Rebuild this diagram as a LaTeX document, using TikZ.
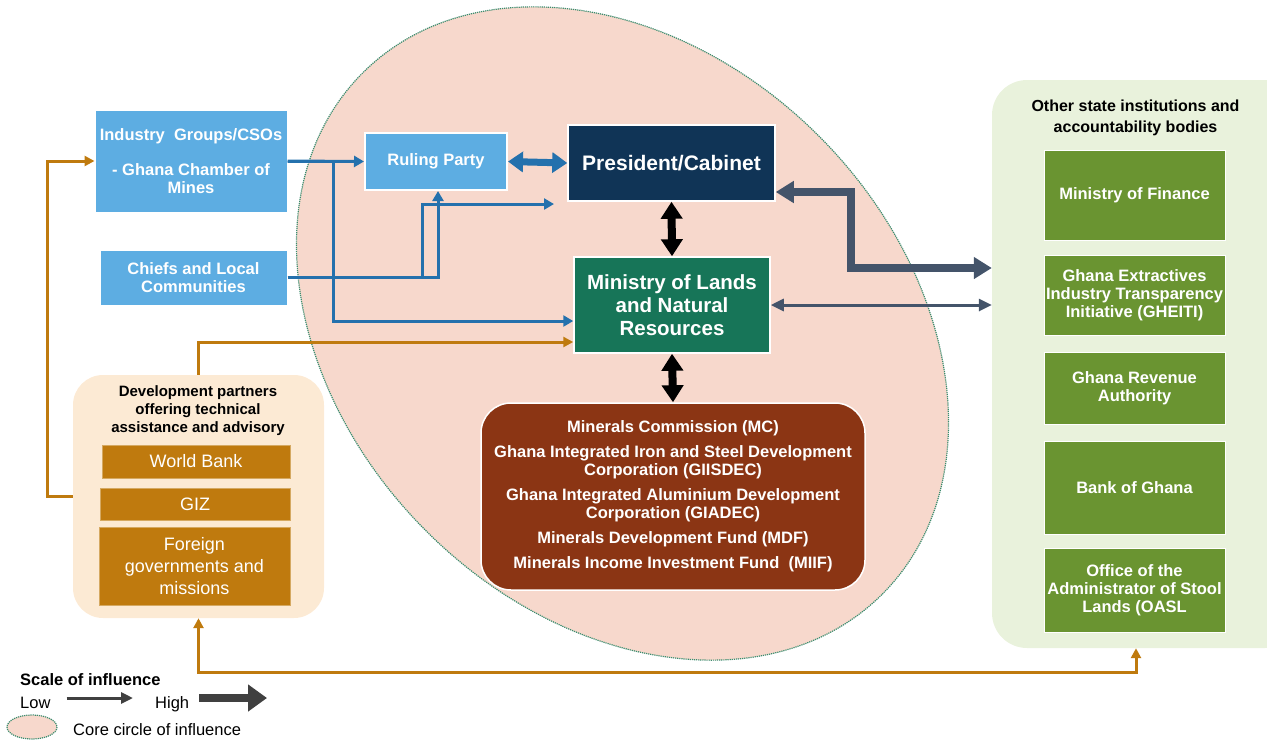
\documentclass[tikz,border=0pt]{standalone}
\usepackage{fontspec}
\setmainfont{Liberation Sans}
\usetikzlibrary{arrows.meta}

\definecolor{corefill}{RGB}{247,216,204}
\definecolor{coreline}{RGB}{60,140,110}
\definecolor{skyblue}{RGB}{93,173,226}
\definecolor{linkblue}{RGB}{36,113,173}
\definecolor{navy}{RGB}{16,52,86}
\definecolor{landgreen}{RGB}{23,117,88}
\definecolor{agencybrown}{RGB}{139,53,20}
\definecolor{slate}{RGB}{68,84,106}
\definecolor{donororange}{RGB}{191,122,14}
\definecolor{donorfill}{RGB}{252,234,212}
\definecolor{statefill}{RGB}{233,242,220}
\definecolor{stategreen}{RGB}{106,148,49}
\definecolor{legendgrey}{RGB}{64,64,64}

\tikzset{
  core/.style={fill=corefill, draw=coreline, line width=1.2pt, dash pattern=on 1.2pt off 0.9pt},
  box/.style={draw=white, line width=1.5pt, inner sep=0pt, align=center, text=white},
  bluebox/.style={box, fill=skyblue, line width=1pt, font=\fontsize{16.5}{17.5}\selectfont\bfseries},
  panel/.style={rounded corners=30pt, inner sep=0pt},
  paneltitle/.style={inner sep=0pt, align=center, text=black},
  statebox/.style={box, fill=stategreen, line width=1pt, minimum width=181pt, font=\fontsize{16.5}{18}\selectfont\bfseries},
  donorbox/.style={box, fill=donororange, draw=donororange!65!white, line width=1pt, font=\fontsize{18}{22}\selectfont},
  legtext/.style={inner sep=0pt, text=black, font=\fontsize{16.5}{18}\selectfont},
  thinblue/.style={draw=linkblue, line width=3pt, -{Triangle[length=10pt,width=11pt]}},
  bigblue/.style={draw=linkblue, line width=7pt, {Triangle[length=15pt,width=20pt]}-{Triangle[length=15pt,width=20pt]}},
  bigblack/.style={draw=black, line width=8pt, {Triangle[length=17pt,width=21pt]}-{Triangle[length=17pt,width=21pt]}},
  bigslate/.style={draw=slate, line width=8pt, {Triangle[length=18pt,width=21pt]}-{Triangle[length=18pt,width=21pt]}},
  thinslate/.style={draw=slate, line width=3pt, {Triangle[length=13pt,width=12pt]}-{Triangle[length=13pt,width=12pt]}},
  orangeline/.style={draw=donororange, line width=3pt, -{Triangle[length=10pt,width=10pt]}},
  orangeboth/.style={draw=donororange, line width=3pt, {Triangle[length=10pt,width=10pt]}-{Triangle[length=10pt,width=10pt]}}
}

\begin{document}
\begin{tikzpicture}[x=1pt, y=-1pt]
  \useasboundingbox (0,0) rectangle (1267,740);

  % core circle of influence
  \draw[core, rotate around={-45.2:(622.5,333.5)}] (622.5,333.5) ellipse [x radius=368, y radius=278.5];

  % side panels
  \node[panel, fill=donorfill, minimum width=251pt, minimum height=243pt] (dev) at (198.5,496.5) {};
  \node[panel, fill=statefill, rounded corners=35pt, minimum width=308pt, minimum height=568pt] (oth) at (1146,364) {};

  % actors on the left
  \node[bluebox, minimum width=192pt, minimum height=102pt] (ind) at (191,161) {Industry\ \ Groups/CSOs\\ \\- Ghana Chamber of\\Mines};
  \node[bluebox, minimum width=187pt, minimum height=55pt] (chf) at (193.5,277.5) {Chiefs and Local\\Communities};

  % core actors
  \node[bluebox, line width=2pt, minimum width=142pt, minimum height=57pt] (rul) at (436,161.5) {Ruling Party};
  \node[box, fill=navy, minimum width=207pt, minimum height=76pt, font=\fontsize{21}{23}\selectfont\bfseries] (pres) at (671.5,163) {President/Cabinet};
  \node[box, fill=landgreen, minimum width=196pt, minimum height=96pt, font=\fontsize{20.5}{23}\selectfont\bfseries] (min) at (672,305) {Ministry of Lands\\and Natural\\Resources};
  \node[box, fill=agencybrown, rounded corners=30pt, minimum width=384pt, minimum height=187pt, font=\fontsize{16.5}{18}\selectfont\bfseries] (brn) at (673,496.5)
    {Minerals Commission (MC)\\[7pt]
     Ghana Integrated Iron and Steel Development\\Corporation (GIISDEC)\\[7pt]
     Ghana Integrated Aluminium Development\\Corporation (GIADEC)\\[7pt]
     Minerals Development Fund (MDF)\\[7pt]
     Minerals Income Investment Fund\ \ (MIIF)};

  % development partners
  \node[paneltitle, font=\fontsize{15}{18}\selectfont\bfseries] (devtitle) at (198,411) {Development partners\\offering technical\\assistance and advisory};
  \node[donorbox, minimum width=188pt, minimum height=33pt] (wb) at (196,461.5) {World Bank};
  \node[donorbox, minimum width=190pt, minimum height=32pt] (giz) at (195,504) {GIZ};
  \node[donorbox, minimum width=191pt, minimum height=78pt] (frg) at (194.5,566) {Foreign\\governments and\\missions};

  % other state institutions
  \node[paneltitle, font=\fontsize{16}{21}\selectfont\bfseries] (othtitle) at (1135.5,117.5) {Other state institutions and\\accountability bodies};
  \node[statebox, minimum height=90pt] (mof) at (1134.5,195) {Ministry of Finance};
  \node[statebox, minimum height=80pt] (eiti) at (1134.5,295) {Ghana Extractives\\Industry Transparency\\Initiative (GHEITI)};
  \node[statebox, minimum height=72pt] (gra) at (1134.5,388) {Ghana Revenue\\Authority};
  \node[statebox, minimum height=93pt] (bog) at (1134.5,487.5) {Bank of Ghana};
  \node[statebox, minimum height=84pt] (oasl) at (1134.5,590) {Office of the\\Administrator of Stool\\Lands (OASL};

  % connectors
  \coordinate (gap) at (554,204);
  \draw[thinblue] (ind.east) -- (rul.west);
  \draw[thinblue] (ind.east) -- ++(46,0) |- ([yshift=-16pt]min.west);
  \draw[thinblue] (chf.east) -- ++(135,0) |- (gap);
  \draw[thinblue] (chf.east) -| ([xshift=2pt]rul.south);
  \draw[bigblue] (rul.east) -- (pres.west);
  \draw[bigblack] (pres.south) -- (min.north);
  \draw[bigblack] (min.south) -- (brn.north);
  \draw[bigslate] ([yshift=-29pt]pres.east) -- ++(75,0) |- ([yshift=96pt]oth.west);
  \draw[thinslate] (min.east) -- (min.east -| oth.west);
  \draw[orangeline] (dev.north) |- ([yshift=-37pt]min.west);
  \draw[orangeline] (dev.west) -- ++(-25,0) |- (ind.west);
  \draw[orangeboth] (dev.south) -- ++(0,54) -| ([xshift=-10pt]oth.south);

  % legend
  \node[legtext, anchor=base west, font=\fontsize{16.5}{18}\selectfont\bfseries] (scale) at (20,685) {Scale of influence};
  \node[legtext, anchor=base west] (low) at (20,708) {Low};
  \node[legtext, anchor=base west] (high) at (155,708) {High};
  \coordinate (thickend) at (267,698);
  \draw[draw=legendgrey, line width=3pt, -{Triangle[length=12pt,width=11pt]}] ([xshift=16pt,yshift=10pt]low.base east) -- ([xshift=-22pt,yshift=10pt]high.base west);
  \draw[draw=legendgrey, line width=8pt, -{Triangle[length=19pt,width=26pt]}] ([xshift=10pt,yshift=10pt]high.base east) -- (thickend);
  \draw[core] (32,727) ellipse [x radius=25, y radius=12];
  \node[legtext, anchor=base west] (coretxt) at (73,735) {Core circle of influence};
\end{tikzpicture}
\end{document}
